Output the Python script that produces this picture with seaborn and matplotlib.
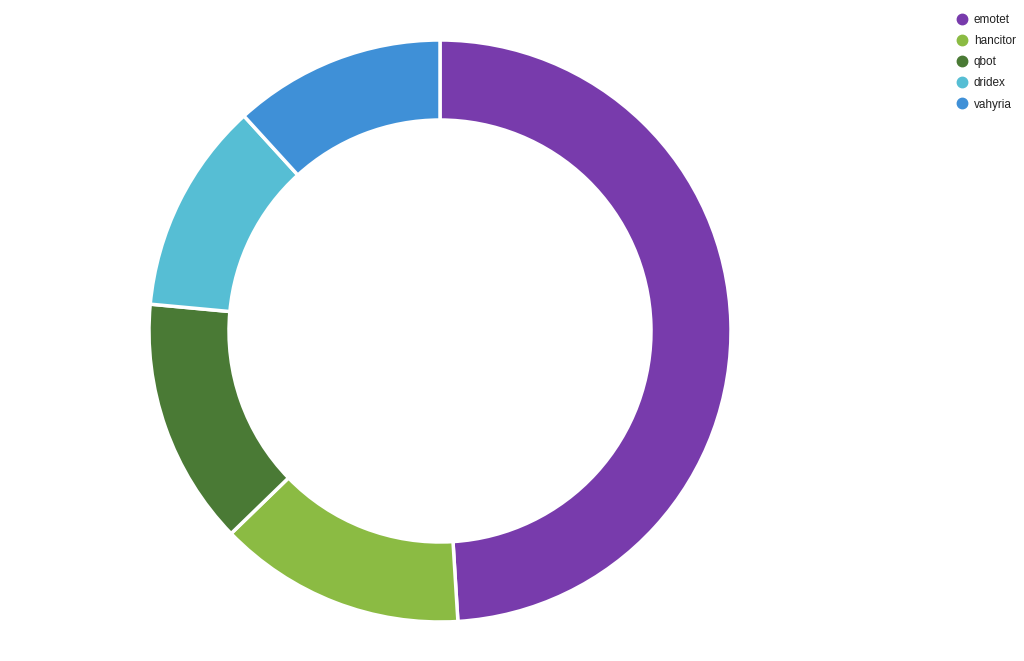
import matplotlib
matplotlib.use("Agg")
import matplotlib.pyplot as plt
from matplotlib.lines import Line2D
import seaborn as sns

# -----------------------------
# Data
# -----------------------------
families = ["emotet", "hancitor", "qbot", "dridex", "vahyria"]
counts = [25, 7, 7, 6, 6]
colors = ["#783BAC", "#8BBB43", "#4A7A35", "#56BED4", "#3F90D7"]

sns.set_theme(style="white")
plt.rcParams["font.family"] = ["Liberation Sans", "DejaVu Sans"]
palette = sns.color_palette(colors)

fig = plt.figure(figsize=(10.24, 6.61), dpi=100)
W, H = 1024, 661

# donut centred at (440, 331) px, outer radius 291 px
cx, cy, r = 440, 331, 291
box = 300
ax = fig.add_axes([(cx - box) / W, (H - cy - box) / H, 2 * box / W, 2 * box / H])
ax.pie(counts, colors=palette, startangle=90, counterclock=False,
       radius=r / box,
       wedgeprops=dict(width=80 / box, edgecolor="white", linewidth=2.5))
ax.set_xlim(-1, 1)
ax.set_ylim(-1, 1)
ax.set_aspect("equal")
ax.axis("off")

# legend top right
handles = [Line2D([0], [0], marker="o", linestyle="", markersize=7.5,
                  markerfacecolor=c, markeredgecolor=c) for c in palette]
fig.legend(handles, families, loc="upper left", bbox_to_anchor=(948 / W, 1 - 9 / H),
           frameon=False, fontsize=8.5, handletextpad=0.3, labelspacing=0.78,
           borderaxespad=0, handlelength=1.5, labelcolor="#222222")

fig.savefig("out.png", dpi=100)
